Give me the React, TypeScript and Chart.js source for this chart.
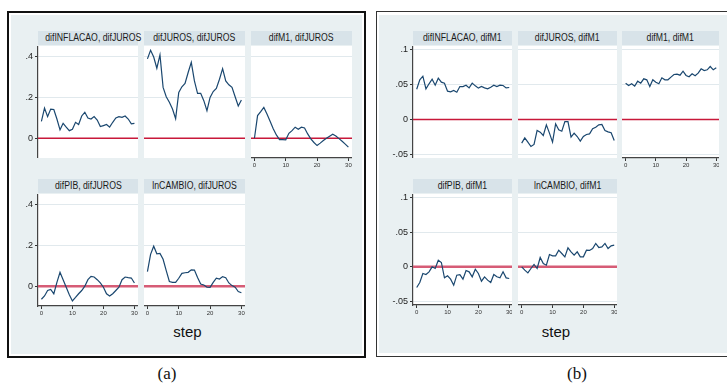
import React, { useEffect, useRef } from "react";
import { Chart, registerables } from "chart.js";

Chart.register(...registerables);

// ---------- data ----------
const steps = [0, 1, 2, 3, 4, 5, 6, 7, 8, 9, 10, 11, 12, 13, 14, 15, 16, 17, 18, 19, 20, 21, 22, 23, 24, 25, 26, 27, 28, 29, 30];
const xTickValues = [0, 10, 20, 30];

const titlesA = ["difINFLACAO, difJUROS", "difJUROS, difJUROS", "difM1, difJUROS", "difPIB, difJUROS", "lnCAMBIO, difJUROS"];
const titlesB = ["difINFLACAO, difM1", "difJUROS, difM1", "difM1, difM1", "difPIB, difM1", "lnCAMBIO, difM1"];

const yTicksA = [0, 0.2, 0.4];
const yTickLabelsA = ["0", ".2", ".4"];
const yTicksB = [-0.05, 0, 0.05, 0.1];
const yTickLabelsB = ["-.05", "0", ".05", ".1"];

const aInflacao = [0.083, 0.148, 0.106, 0.143, 0.141, 0.094, 0.041, 0.073, 0.054, 0.037, 0.044, 0.078, 0.067, 0.109, 0.127, 0.099, 0.094, 0.106, 0.089, 0.057, 0.062, 0.067, 0.054, 0.078, 0.099, 0.106, 0.102, 0.109, 0.094, 0.070, 0.073];
const aJuros = [0.389, 0.431, 0.398, 0.343, 0.408, 0.249, 0.203, 0.176, 0.143, 0.096, 0.224, 0.252, 0.268, 0.322, 0.372, 0.281, 0.220, 0.220, 0.184, 0.135, 0.200, 0.229, 0.244, 0.289, 0.341, 0.281, 0.262, 0.249, 0.203, 0.158, 0.187];
const aM1 = [0, 0.111, 0.130, 0.151, 0.119, 0.083, 0.046, 0.016, -0.007, -0.007, -0.008, 0.024, 0.037, 0.054, 0.044, 0.054, 0.050, 0.021, -0.003, -0.021, -0.036, -0.024, -0.011, 0, 0.010, 0.020, 0.011, -0.002, -0.015, -0.029, -0.044];
const aPib = [-0.064, -0.048, -0.021, -0.016, -0.037, 0.019, 0.068, 0.032, -0.005, -0.042, -0.072, -0.055, -0.037, -0.021, 0, 0.032, 0.048, 0.045, 0.032, 0.016, -0.005, -0.037, -0.048, -0.037, -0.021, -0.005, 0.032, 0.045, 0.042, 0.040, 0.016];
const aCambio = [0.071, 0.156, 0.196, 0.159, 0.161, 0.132, 0.076, 0.023, 0.019, 0.019, 0.039, 0.063, 0.066, 0.068, 0.080, 0.079, 0.043, 0.011, 0.006, -0.005, -0.006, 0.019, 0.039, 0.035, 0.047, 0.042, 0.016, 0.003, -0.005, -0.026, -0.032];

const bInflacao = [0.0433, 0.0567, 0.0619, 0.0438, 0.0510, 0.0576, 0.0490, 0.0590, 0.0533, 0.0519, 0.0405, 0.0395, 0.0414, 0.0390, 0.0471, 0.0471, 0.0490, 0.0452, 0.0519, 0.0481, 0.0448, 0.0471, 0.0452, 0.0438, 0.0462, 0.0490, 0.0471, 0.0490, 0.0486, 0.0452, 0.0457];
const bJuros = [-0.0338, -0.0262, -0.0324, -0.0386, -0.0357, -0.0157, -0.0181, -0.0229, -0.0076, -0.0195, -0.0324, -0.0062, -0.0148, -0.0167, -0.0029, -0.0029, -0.0252, -0.0195, -0.0243, -0.0310, -0.0243, -0.0214, -0.0205, -0.0133, -0.0110, -0.0076, -0.0071, -0.0157, -0.0176, -0.0190, -0.0300];
const bM1 = [0.0519, 0.0486, 0.0510, 0.0476, 0.0548, 0.0519, 0.0581, 0.0567, 0.0471, 0.0567, 0.0533, 0.0510, 0.0595, 0.0567, 0.0567, 0.0605, 0.0643, 0.0648, 0.0633, 0.0690, 0.0629, 0.0610, 0.0652, 0.0624, 0.0662, 0.0724, 0.0700, 0.0710, 0.0757, 0.0710, 0.0738];
const bPib = [-0.0298, -0.0226, -0.0096, -0.0111, -0.0072, 0, -0.0024, 0.0096, 0.0063, -0.0159, -0.0130, -0.0178, -0.0264, -0.0120, -0.0111, -0.0178, -0.0053, -0.0072, -0.0144, -0.0034, -0.0096, -0.0207, -0.0144, -0.0192, -0.0226, -0.0111, -0.0144, -0.0159, -0.0072, -0.0159, -0.0168];
const bCambio = [0, -0.0048, -0.0087, -0.0024, 0.0034, -0.0024, 0.0135, 0.0048, 0.0024, 0.0178, 0.0159, 0.0159, 0.0240, 0.0192, 0.0144, 0.0274, 0.0216, 0.0168, 0.0216, 0.0144, 0.0144, 0.0240, 0.0236, 0.0264, 0.0337, 0.0279, 0.0288, 0.0337, 0.0264, 0.0303, 0.0312];

const seriesA = [aInflacao, aJuros, aM1, aPib, aCambio];
const seriesB = [bInflacao, bJuros, bM1, bPib, bCambio];

// ---------- layout / style ----------
const FILL = "#e9f0f2";
const STRIP = "#d8e3e9";
const GRID = "#e1e9ed";
const LINE = "#1a476f";
const FONT = "'Liberation Sans', Arial, sans-serif";

type PanelProps = {
  title: string;
  values: number[];
  left: number;
  top: number;
  width: number;
  height: number;
  yMin: number;
  yMax: number;
  xMin: number;
  xMax: number;
  yTicks: number[];
  yLabels: string[];
  showY: boolean;
  showX: boolean;
  zeroColor: string;
  zeroWidth: number;
};

function noPad(s: any) {
  s.paddingTop = 0;
  s.paddingBottom = 0;
  s.paddingLeft = 0;
  s.paddingRight = 0;
}

function Panel(p: PanelProps) {
  const ref = useRef<HTMLCanvasElement>(null);
  const yW = p.showY ? 30 : 0;
  const xH = p.showX ? 14 : 0;
  const cw = p.width + yW;
  const ch = p.height + xH;

  useEffect(() => {
    const bg = {
      id: "plotBg",
      beforeDraw(chart: any) {
        const { ctx, chartArea: a } = chart;
        ctx.save();
        ctx.fillStyle = "#ffffff";
        ctx.fillRect(a.left, a.top, a.right - a.left, a.bottom - a.top);
        ctx.restore();
      },
    };
    const zero = {
      id: "zeroLine",
      beforeDatasetsDraw(chart: any) {
        const { ctx, chartArea: a, scales } = chart;
        const y = scales.y.getPixelForValue(0);
        ctx.save();
        ctx.strokeStyle = p.zeroColor;
        ctx.lineWidth = p.zeroWidth;
        ctx.beginPath();
        ctx.moveTo(a.left, y);
        ctx.lineTo(a.right, y);
        ctx.stroke();
        ctx.restore();
      },
    };
    const chart = new Chart(ref.current as HTMLCanvasElement, {
      type: "line",
      data: {
        datasets: [
          {
            data: steps.map((s, i) => ({ x: s, y: p.values[i] })),
            borderColor: LINE,
            borderWidth: 1.2,
            pointRadius: 0,
            tension: 0,
            fill: false,
            clip: false,
          },
        ],
      },
      options: {
        animation: false,
        responsive: false,
        devicePixelRatio: 1,
        events: [],
        layout: { padding: 0, autoPadding: false } as any,
        plugins: {
          legend: { display: false },
          tooltip: { enabled: false },
          title: { display: false },
        },
        scales: {
          x: {
            type: "linear",
            min: p.xMin,
            max: p.xMax,
            display: p.showX,
            afterBuildTicks: (s: any) => {
              s.ticks = xTickValues.map((v) => ({ value: v }));
            },
            afterFit: (s: any) => {
              s.height = xH;
              noPad(s);
            },
            grid: {
              drawOnChartArea: false,
              drawTicks: true,
              tickLength: 3,
              tickColor: "#333",
              tickWidth: 1,
            },
            border: { display: true, color: "#444", width: 1.2 },
            ticks: {
              font: { family: FONT, size: 6 },
              color: "#333",
              padding: 1,
              maxRotation: 0,
              autoSkip: false,
              callback: (v: any) => String(v),
            },
          },
          y: {
            type: "linear",
            min: p.yMin,
            max: p.yMax,
            display: true,
            afterBuildTicks: (s: any) => {
              s.ticks = p.yTicks.map((v) => ({ value: v }));
            },
            afterFit: (s: any) => {
              s.width = yW;
              noPad(s);
            },
            grid: {
              color: GRID,
              lineWidth: 1,
              drawTicks: p.showY,
              tickLength: 3,
              tickColor: "#333",
            },
            border: { display: p.showY, color: "#444", width: 1.2 },
            ticks: {
              display: p.showY,
              font: { family: FONT, size: 9 },
              color: "#222",
              padding: 2,
              callback: (_v: any, i: number) => p.yLabels[i],
            },
          },
        },
      } as any,
      plugins: [bg, zero],
    });
    return () => chart.destroy();
  }, []);

  return (
    <>
      <div
        style={{
          position: "absolute",
          left: p.left,
          top: p.top - 15,
          width: p.width,
          height: 13.5,
          background: STRIP,
          textAlign: "center",
          fontFamily: FONT,
          fontSize: 10,
          lineHeight: "13.5px",
          color: "#1a1a1a",
          whiteSpace: "nowrap",
          overflow: "visible",
        }}
      >
        <span style={{ display: "inline-block", transform: "scaleX(0.87)" }}>{p.title}</span>
      </div>
      <canvas
        ref={ref}
        width={cw}
        height={ch}
        style={{ position: "absolute", left: p.left - yW, top: p.top, width: cw, height: ch }}
      />
    </>
  );
}

const colsA = [
  [38, 100],
  [144, 101],
  [251, 101],
];
const colsB = [
  [413, 99],
  [518, 99],
  [622, 97],
];
const rowsA = [
  [46, 112],
  [194, 112],
];
const rowsB = [
  [46, 112],
  [194, 111],
];

function Group(props: {
  titles: string[];
  series: number[][];
  cols: number[][];
  rows: number[][];
  yMin: number;
  yMax: number;
  xMin: number;
  xMax: number;
  yTicks: number[];
  yLabels: string[];
}) {
  const panels = [];
  for (let i = 0; i < 5; i++) {
    const r = i < 3 ? 0 : 1;
    const c = i % 3;
    const [left, width] = props.cols[c];
    const [top, height] = props.rows[r];
    panels.push(
      <Panel
        key={i}
        title={props.titles[i]}
        values={props.series[i]}
        left={left}
        top={top}
        width={width}
        height={height}
        yMin={props.yMin}
        yMax={props.yMax}
        xMin={props.xMin}
        xMax={props.xMax}
        yTicks={props.yTicks}
        yLabels={props.yLabels}
        showY={c === 0}
        showX={r === 1 || c === 2}
        zeroColor={r === 0 ? "#c8183a" : "#d65c76"}
        zeroWidth={r === 0 ? 1.5 : 2.5}
      />
    );
  }
  return <>{panels}</>;
}

export default function App() {
  return (
    <div
      style={{
        position: "absolute",
        left: 0,
        top: 0,
        width: 727,
        height: 385,
        overflow: "hidden",
        background: "#ffffff",
      }}
    >
      {/* box (a) */}
      <div style={{ position: "absolute", left: 7, top: 11, width: 359, height: 347, border: "2px solid #111", boxSizing: "border-box" }} />
      <div style={{ position: "absolute", left: 11, top: 15, width: 351, height: 339, background: FILL }} />
      {/* box (b) */}
      <div style={{ position: "absolute", left: 376, top: 11, width: 370, height: 346, border: "1.5px solid #333", boxSizing: "border-box" }} />
      <div style={{ position: "absolute", left: 379, top: 15, width: 360, height: 338, background: FILL }} />

      <Group titles={titlesA} series={seriesA} cols={colsA} rows={rowsA} yMin={-0.097} yMax={0.452} xMin={-1.1} xMax={31.15} yTicks={yTicksA} yLabels={yTickLabelsA} />
      <Group titles={titlesB} series={seriesB} cols={colsB} rows={rowsB} yMin={-0.055} yMax={0.105} xMin={-1.2} xMax={30.9} yTicks={yTicksB} yLabels={yTickLabelsB} />

      <div style={{ position: "absolute", left: 147.5, top: 322, width: 80, textAlign: "center", fontFamily: FONT, fontSize: 15, lineHeight: "19px", color: "#111" }}>step</div>
      <div style={{ position: "absolute", left: 516, top: 322, width: 80, textAlign: "center", fontFamily: FONT, fontSize: 15, lineHeight: "19px", color: "#111" }}>step</div>

      <div style={{ position: "absolute", left: 127, top: 364, width: 80, textAlign: "center", fontFamily: "'Liberation Serif', 'Times New Roman', serif", fontSize: 17, lineHeight: "20px", color: "#111" }}>(a)</div>
      <div style={{ position: "absolute", left: 537, top: 364, width: 80, textAlign: "center", fontFamily: "'Liberation Serif', 'Times New Roman', serif", fontSize: 17, lineHeight: "20px", color: "#111" }}>(b)</div>
    </div>
  );
}
